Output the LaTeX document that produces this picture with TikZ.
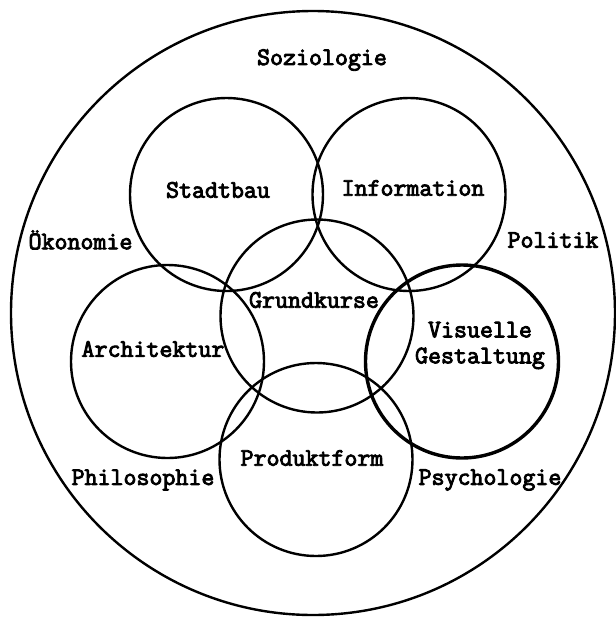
\documentclass[tikz,border=0pt]{standalone}
\usepackage{fontspec}
\newfontfamily\courb[FakeBold=3.5]{Latin Modern Mono}
\begin{document}
\begin{tikzpicture}[x=0.5pt,y=-0.5pt,
  ring/.style={line width=1.2pt},
  thickring/.style={line width=1.7pt},
  lbl/.style={font=\courb\fontsize{12.6}{13}\selectfont, inner sep=0pt, align=center}]
\useasboundingbox (0,0) rectangle (616,618);
\coordinate (outer) at (313,313);
\coordinate (cstadt) at (226.5,194.5);
\coordinate (cinfo) at (409,194.5);
\coordinate (cgrund) at (317,316);
\coordinate (carch) at (167.5,361.5);
\coordinate (cvis) at (462,361.5);
\coordinate (cprod) at (316,459.5);
\draw[ring] (outer) circle (302);
\draw[ring] (cstadt) circle (96.5);
\draw[ring] (cinfo) circle (96.5);
\draw[ring] (cgrund) circle (96.5);
\draw[ring] (carch) circle (96.5);
\draw[thickring] (cvis) circle (96.5);
\draw[ring] (cprod) circle (96.5);
\node[lbl] (soz) at (322,60) {Soziologie};
\node[lbl] (stadt) at (218,190) {Stadtbau};
\node[lbl] (info) at (413,188) {Information};
\node[lbl] (oko) at (80.5,240) {Ökonomie};
\node[lbl] (pol) at (553,240) {Politik};
\node[lbl] (grund) at (314,300) {Grundkurse};
\node[lbl] (arch) at (153,349) {Architektur};
\node[lbl] (vis) at (480,345.5) {Visuelle\\Gestaltung};
\node[lbl] (prod) at (312,458) {Produktform};
\node[lbl] (phil) at (143,480) {Philosophie};
\node[lbl] (psy) at (490,480) {Psychologie};
\end{tikzpicture}
\end{document}
